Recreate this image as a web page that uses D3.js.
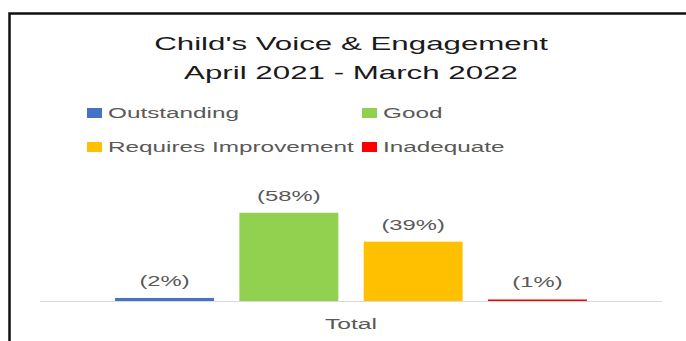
<!DOCTYPE html>
<html>
<head>
<meta charset="utf-8">
<script src="https://cdn.jsdelivr.net/npm/d3@7"></script>
<style>
  html, body { margin: 0; padding: 0; background: #fff; }
  svg { display: block; }
  text { font-family: "Liberation Sans", Arial, sans-serif; }
</style>
</head>
<body>
<svg id="chart" width="686" height="341"></svg>
<script>
// Chart data
const titleLines = ["Child's Voice & Engagement", "April 2021 - March 2022"];
const categories = ["Total"];
const seriesNames = ["Outstanding", "Good", "Requires Improvement", "Inadequate"];
const seriesColors = ["#4472C4", "#92D050", "#FFC000", "#FF0000"];
const seriesValues = [2, 58, 39, 1];
const valueLabels = ["(2%)", "(58%)", "(39%)", "(1%)"];

const W = 686, H = 341;
const sx = 1.7; // horizontal text stretch
const svg = d3.select("#chart");

// Frame (left and top edges)
svg.append("path")
  .attr("d", `M9.5,${H} V13.5 H${W}`)
  .attr("fill", "none").attr("stroke", "#111").attr("stroke-width", 2.5);

function stretchedText(g, x, y, str, size, color, anchor) {
  return g.append("text")
    .attr("transform", `translate(${x},${y}) scale(${sx},1)`)
    .attr("text-anchor", anchor)
    .attr("font-size", size)
    .attr("fill", color)
    .text(str);
}

// Title
titleLines.forEach((t, i) => stretchedText(svg, 351, 50 + i * 29, t, 18.4, "#1a1a1a", "middle"));

// Legend
const legendPos = [[87, 113], [362, 113], [87, 147], [362, 147]];
seriesNames.forEach((name, i) => {
  const [lx, ly] = legendPos[i];
  svg.append("rect").attr("x", lx).attr("y", ly - 5).attr("width", 15).attr("height", 10)
    .attr("fill", seriesColors[i]);
  stretchedText(svg, lx + 21, ly + 5, name, 14.3, "#595959", "start");
});

// Plot area
const plot = { left: 40, right: 662, top: 161, bottom: 301 };
const x0 = d3.scaleBand().domain(categories).range([plot.left, plot.right]).paddingInner(0).paddingOuter(0.159);
const x1 = d3.scaleBand().domain(seriesNames).range([0, x0.bandwidth()]).paddingInner(0.204).paddingOuter(0);
const y = d3.scaleLinear().domain([0, 92]).range([plot.bottom, plot.top]);

const groups = svg.append("g").selectAll("g").data(categories).join("g")
  .attr("transform", d => `translate(${x0(d)},0)`);

const bars = groups.selectAll("g.bar")
  .data(seriesNames.map((s, i) => ({ s, v: seriesValues[i], c: seriesColors[i], label: valueLabels[i] })))
  .join("g").attr("class", "bar");

bars.append("rect")
  .attr("x", d => x1(d.s))
  .attr("width", x1.bandwidth())
  .attr("y", d => y(d.v))
  .attr("height", d => y(0) - y(d.v))
  .attr("fill", d => d.c);

bars.each(function (d) {
  stretchedText(d3.select(this), x1(d.s) + x1.bandwidth() / 2, y(d.v) - 12, d.label, 14, "#595959", "middle");
});

// Category axis
const axis = svg.append("g").attr("transform", `translate(0,${plot.bottom})`)
  .call(d3.axisBottom(x0).tickSize(0).tickPadding(0));
axis.select(".domain").attr("stroke", "#D9D9D9").attr("stroke-width", 1.2)
  .attr("d", `M${plot.left},0.5H${plot.right}`);
axis.selectAll(".tick text").remove();
axis.selectAll(".tick").each(function (d) {
  stretchedText(d3.select(this), 0, 28, d, 14.5, "#595959", "middle");
});
</script>
</body>
</html>
